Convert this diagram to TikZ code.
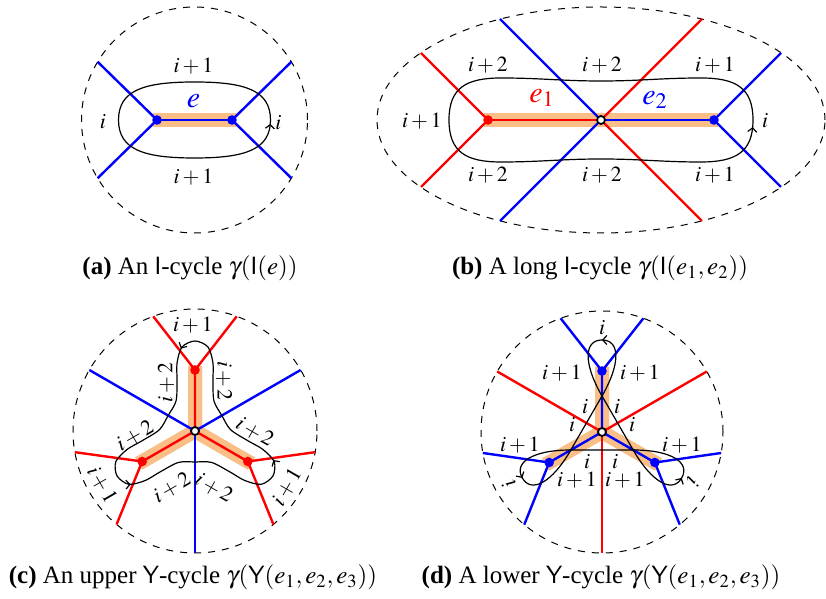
\documentclass[tikz,border=0pt]{standalone}
\usepackage{mathptmx}
\usepackage{fontspec}
\setmainfont{Liberation Serif}
\usetikzlibrary{arrows.meta,decorations.markings}

\definecolor{hlorange}{RGB}{250,190,135}

\tikzset{
  bnd/.style={line width=0.5pt, dash pattern=on 3.5pt off 3.5pt},
  redge/.style={red, line width=1.2pt},
  bedge/.style={blue, line width=1.2pt},
  hilite/.style={hlorange, line width=7pt, shorten <=-2pt, shorten >=-2pt},
  cyc/.style={line width=0.6pt},
  rdot/.style={circle, fill=red, inner sep=0pt, minimum size=4.8pt},
  bdot/.style={circle, fill=blue, inner sep=0pt, minimum size=4.8pt},
  wdot/.style={circle, draw=black, fill=white, line width=0.9pt, inner sep=0pt, minimum size=4pt},
  big/.style={font=\fontsize{15}{18}\selectfont},
  captxt/.style={font=\fontsize{12.5}{15}\selectfont},
  arr/.style={postaction={decorate}, decoration={markings,
      mark=at position #1 with {\arrow{Straight Barb[length=2pt,width=4.5pt]}}}},
  arr3/.style={postaction={decorate}, decoration={markings,
      mark=at position 0.1667 with {\arrow{Straight Barb[length=2pt,width=4.5pt]}},
      mark=at position 0.5 with {\arrow{Straight Barb[length=2pt,width=4.5pt]}},
      mark=at position 0.8333 with {\arrow{Straight Barb[length=2pt,width=4.5pt]}}}},
}

\begin{document}
\begin{tikzpicture}[x=0.5pt,y=0.5pt,font=\fontsize{10.8}{13}\selectfont,inner sep=0.5pt]
\useasboundingbox (0,0) rectangle (826,599);

% (a) I-cycle
\begin{scope}[shift={(194.5,479)}]
\draw[bnd] (0,0) circle (113);
\coordinate (a1) at (-37.5,0);
\coordinate (a2) at (37.5,0);
\coordinate (a1u) at (149:113);
\coordinate (a1d) at (211:113);
\coordinate (a2u) at (31:113);
\coordinate (a2d) at (329:113);
\draw[hilite] (a1) -- (a2);
\draw[bedge] (a1) -- (a2);
\draw[bedge] (a1u) -- (a1) -- (a1d);
\draw[bedge] (a2u) -- (a2) -- (a2d);
\draw[cyc, arr=0.99] (76,0) .. controls (76,30) and (50,38) .. (0,38)
  .. controls (-50,38) and (-76,30) .. (-76,0)
  .. controls (-76,-30) and (-50,-38) .. (0,-38)
  .. controls (50,-38) and (76,-30) .. (76,0);
\node[bdot] (a1v) at (a1) {};
\node[bdot] (a2v) at (a2) {};
\node[blue, big] (ae) at (-1,19) {$e$};
\node (at) at (-1,54) {$i+1$};
\node (ab) at (-1,-57) {$i+1$};
\node (al) at (-91.5,-2) {$i$};
\node (ar) at (84,-3) {$i$};
\end{scope}
\node[captxt] (capa) at (190,331) {\textbf{(a)} An \textsf{I}-cycle $\gamma(\textsf{I}(e))$};

% (b) long I-cycle
\begin{scope}[shift={(601,479)}]
\draw[bnd] (0,0) ellipse [x radius=224, y radius=113];
\coordinate (b1) at (-113,0);
\coordinate (b0) at (0,0);
\coordinate (b2) at (113,0);
\coordinate (b1u) at (-180,67);
\coordinate (b1d) at (-180,-67);
\coordinate (b0a) at (-101,101);
\coordinate (b0b) at (-101,-101);
\coordinate (b0c) at (101,101);
\coordinate (b0d) at (101,-101);
\coordinate (b2u) at (180,67);
\coordinate (b2d) at (180,-67);
\draw[hilite] (b1) -- (b2);
\draw[redge] (b1) -- (b0);
\draw[bedge] (b0) -- (b2);
\draw[redge] (b1u) -- (b1) -- (b1d);
\draw[bedge] (b0a) -- (b0) -- (b0b);
\draw[redge] (b0c) -- (b0) -- (b0d);
\draw[bedge] (b2u) -- (b2) -- (b2d);
\draw[cyc, arr=0.99] (152,0) .. controls (152,32) and (135,42) .. (100,42)
  .. controls (60,42) and (40,39) .. (0,39)
  .. controls (-40,39) and (-60,42) .. (-100,42)
  .. controls (-135,42) and (-152,32) .. (-152,0)
  .. controls (-152,-32) and (-135,-42) .. (-100,-42)
  .. controls (-60,-42) and (-40,-39) .. (0,-39)
  .. controls (40,-39) and (60,-42) .. (100,-42)
  .. controls (135,-42) and (152,-32) .. (152,0);
\node[rdot] (b1v) at (b1) {};
\node[wdot] (b0v) at (b0) {};
\node[bdot] (b2v) at (b2) {};
\node[red, big] (be1) at (-59,22) {$e_1$};
\node[blue, big] (be2) at (54,20) {$e_2$};
\node (bt1) at (-113,55) {$i+2$};
\node (bt2) at (1,55) {$i+2$};
\node (bt3) at (114,55) {$i+1$};
\node (bb1) at (-113,-55) {$i+2$};
\node (bb2) at (1,-55) {$i+2$};
\node (bb3) at (114,-55) {$i+1$};
\node (bl) at (-179,-1) {$i+1$};
\node (br) at (164,-1) {$i$};
\end{scope}
\node[captxt] (capb) at (600,331) {\textbf{(b)} A long \textsf{I}-cycle $\gamma(\textsf{I}(e_1,e_2))$};

% (c) upper Y-cycle
\begin{scope}[shift={(195,168)}]
\draw[bnd] (0,0) circle (122);
\coordinate (c0) at (0,0);
\coordinate (c1) at (90:61);
\coordinate (c2) at (210:61);
\coordinate (c3) at (330:61);
\coordinate (cb1) at (30:122);
\coordinate (cb2) at (150:122);
\coordinate (cb3) at (270:122);
\coordinate (c1a) at (70:122);
\coordinate (c1b) at (110:122);
\coordinate (c2a) at (190:122);
\coordinate (c2b) at (230:122);
\coordinate (c3a) at (310:122);
\coordinate (c3b) at (350:122);
\draw[hilite] (c1) -- (c0) -- (c2);
\draw[hilite] (c2) -- (c0) -- (c3);
\draw[hilite] (c3) -- (c0) -- (c1);
\draw[bedge] (c0) -- (cb1);
\draw[bedge] (c0) -- (cb2);
\draw[bedge] (c0) -- (cb3);
\draw[redge] (c1) -- (c0) -- (c2);
\draw[redge] (c0) -- (c3);
\draw[redge] (c1a) -- (c1) -- (c1b);
\draw[redge] (c2a) -- (c2) -- (c2b);
\draw[redge] (c3a) -- (c3) -- (c3b);
\draw[cyc, arr3] plot[smooth cycle] coordinates {
  (30:31) (57.7:35.5) (70.2:53.1) (75.2:70.3) (81.2:85) (90:90)
  (98.8:85) (104.8:70.3) (109.8:53.1) (122.3:35.5)
  (150:31) (177.7:35.5) (190.2:53.1) (195.2:70.3) (201.2:85) (210:90)
  (218.8:85) (224.8:70.3) (229.8:53.1) (242.3:35.5)
  (270:31) (297.7:35.5) (310.2:53.1) (315.2:70.3) (321.2:85) (330:90)
  (338.8:85) (344.8:70.3) (349.8:53.1) (2.3:35.5)};
\node[rdot] (c1v) at (c1) {};
\node[rdot] (c2v) at (c2) {};
\node[rdot] (c3v) at (c3) {};
\node[wdot] (c0v) at (c0) {};
\node (ct) at (-2,106) {$i+1$};
\node[rotate=90] (cl1) at (-29,48) {$i+2$};
\node[rotate=-90] (cr1) at (29,50) {$i+2$};
\node[rotate=30] (cl2) at (-60,-5) {$i+2$};
\node[rotate=-30] (cr2) at (60,-1) {$i+2$};
\node[rotate=30] (cl3) at (-23,-57) {$i+2$};
\node[rotate=-30] (cr3) at (19,-57) {$i+2$};
\node[rotate=-60] (cl4) at (-93,-54) {$i+1$};
\node[rotate=60] (cr4) at (92,-56) {$i+1$};
\end{scope}
\node[captxt] (capc) at (193,22) {\textbf{(c)} An upper \textsf{Y}-cycle $\gamma(\textsf{Y}(e_1,e_2,e_3))$};

% (d) lower Y-cycle
\begin{scope}[shift={(602,167)}]
\draw[bnd] (0,0) circle (121);
\coordinate (d0) at (0,0);
\coordinate (d1) at (90:61);
\coordinate (d2) at (210:61);
\coordinate (d3) at (330:61);
\coordinate (db1) at (30:121);
\coordinate (db2) at (150:121);
\coordinate (db3) at (270:121);
\coordinate (d1a) at (70:121);
\coordinate (d1b) at (110:121);
\coordinate (d2a) at (190:121);
\coordinate (d2b) at (230:121);
\coordinate (d3a) at (310:121);
\coordinate (d3b) at (350:121);
\coordinate (x1) at (90:36);
\coordinate (x2) at (330:36);
\coordinate (x3) at (210:36);
\coordinate (t1) at (90:92);
\coordinate (t2) at (330:92);
\coordinate (t3) at (210:92);
\draw[hilite] (d1) -- (d0) -- (d2);
\draw[hilite] (d2) -- (d0) -- (d3);
\draw[hilite] (d3) -- (d0) -- (d1);
\draw[redge] (d0) -- (db1);
\draw[redge] (d0) -- (db2);
\draw[redge] (d0) -- (db3);
\draw[bedge] (d1) -- (d0) -- (d2);
\draw[bedge] (d0) -- (d3);
\draw[bedge] (d1a) -- (d1) -- (d1b);
\draw[bedge] (d2a) -- (d2) -- (d2b);
\draw[bedge] (d3a) -- (d3) -- (d3b);
\draw[cyc] (x1) -- (x2) -- (x3) -- cycle;
\draw[cyc, arr=0.5] (x1) .. controls +(60:38) and +(0:18) .. (t1)
  .. controls +(180:18) and +(120:38) .. (x1);
\draw[cyc, arr=0.5] (x2) .. controls +(-60:38) and +(-120:18) .. (t2)
  .. controls +(60:18) and +(0:38) .. (x2);
\draw[cyc, arr=0.5] (x3) .. controls +(180:38) and +(120:18) .. (t3)
  .. controls +(-60:18) and +(-120:38) .. (x3);
\node[bdot] (d1v) at (d1) {};
\node[bdot] (d2v) at (d2) {};
\node[bdot] (d3v) at (d3) {};
\node[wdot] (d0v) at (d0) {};
\node (dt) at (0,104) {$i$};
\node (dl1) at (-40,59) {$i+1$};
\node (dr1) at (38,59) {$i+1$};
\node (dl2) at (-17,25) {$i$};
\node (dr2) at (15,25) {$i$};
\node (dl3) at (-30,7) {$i$};
\node (dr3) at (30,7) {$i$};
\node (dl4) at (-82,-13) {$i+1$};
\node (dr4) at (80,-13) {$i+1$};
\node (dl5) at (-15,-30) {$i$};
\node (dr5) at (13,-30) {$i$};
\node (dl6) at (-25,-48) {$i+1$};
\node (dr6) at (23,-48) {$i+1$};
\node[rotate=120] (dl7) at (-93,-52) {$i$};
\node[rotate=-120] (dr7) at (91,-50) {$i$};
\end{scope}
\node[captxt] (capd) at (601,22) {\textbf{(d)} A lower \textsf{Y}-cycle $\gamma(\textsf{Y}(e_1,e_2,e_3))$};
\end{tikzpicture}
\end{document}
